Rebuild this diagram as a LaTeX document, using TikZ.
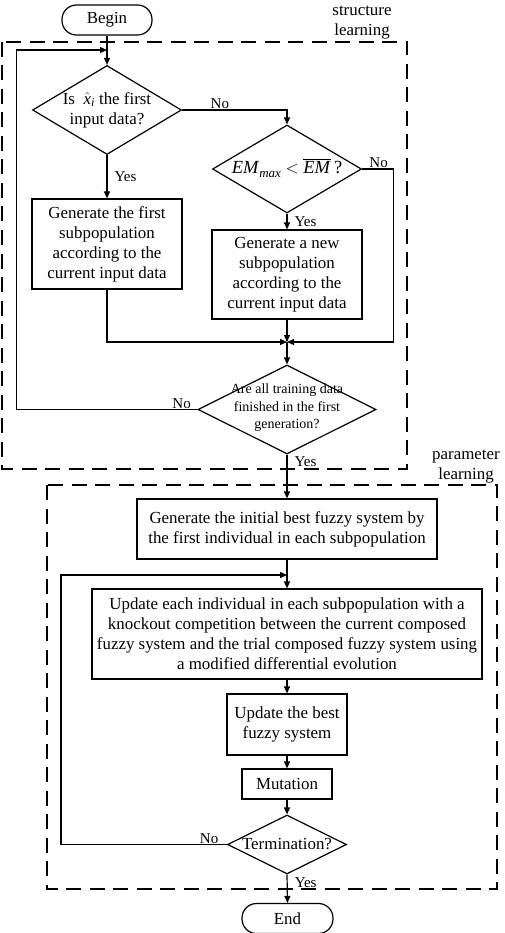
\documentclass[tikz,border=0pt]{standalone}
\usepackage{fontspec}
\setmainfont{Liberation Serif}
\usetikzlibrary{shapes.geometric,arrows.meta}
\newcommand{\myovl}[1]{\setbox0\hbox{#1}\rlap{\rule[\dimexpr\ht0+1.6pt\relax]{\wd0}{0.9pt}}\box0}
\begin{document}
\begin{tikzpicture}[x=1pt,y=-1pt,line width=1.2pt,
  arr/.style={-{Triangle[length=7pt,width=6pt]}},
  txt/.style={font=\fontsize{16.9}{20}\selectfont,align=center,inner sep=0pt},
  proc/.style={draw,rectangle,txt},
  term/.style={draw,rectangle,rounded corners=14.5pt,txt,minimum width=90pt,minimum height=30pt},
  dia/.style={draw,diamond,inner sep=0pt},
  lbl/.style={font=\fontsize{15}{17}\selectfont,inner sep=1pt},
  group/.style={line width=2.6pt,dash pattern=on 15pt off 8.5pt},
]
\fill[white] (0,0) rectangle (505,933);
\useasboundingbox (0,0) rectangle (505,933);

% group frames
\draw[group] (2,42) rectangle (407,469);
\draw[group] (47,485) rectangle (497,889);
\node[txt] (lblS) at (362,23) {structure\\learning};
\node[txt] (lblP) at (466,467) {parameter\\learning};

% nodes
\node[term] (begin) at (107,20) {Begin};
\coordinate (top1) at (107,50);
\node[dia,minimum width=149pt,minimum height=89pt] (d1) at (107,110) {};
\node[txt] (d1t) at (107,110) {Is \ $\hat{\mbox{\textit{x}}}_{\mbox{\fontsize{12}{13}\selectfont\textit{i}}}$ the first\\input data?};
\node[dia,minimum width=149pt,minimum height=88pt] (d2) at (287,169) {};
\node[txt,font=\fontsize{18.5}{22}\selectfont] (d2t) at (287,168) {\textit{EM}\raisebox{-4pt}{\fontsize{13}{14}\selectfont\textit{max}} $<$ \myovl{\textit{EM}}\,?};
\node[proc,minimum width=150pt,minimum height=90pt] (b1) at (107,244) {Generate the first\\subpopulation\\according to the\\current input data};
\node[proc,minimum width=150pt,minimum height=89pt] (b2) at (287,274.5) {Generate a new\\subpopulation\\according to the\\current input data};
\coordinate (m) at (287,342);
\node[dia,minimum width=178pt,minimum height=89pt] (d3) at (287,409.5) {};
\node[txt,font=\fontsize{14}{17.5}\selectfont] (d3t) at (287,408) {Are all training data\\finished in the first\\generation?};

\node[proc,minimum width=300pt,minimum height=60pt] (b3) at (287,529) {Generate the initial best fuzzy system by\\the first individual in each subpopulation};
\coordinate (top2) at (287,575);
\node[proc,minimum width=390pt,minimum height=90pt] (b4) at (287,634) {Update each individual in each subpopulation with a\\knockout competition between the current composed\\fuzzy system and the trial composed fuzzy system using\\a modified differential evolution};
\node[proc,minimum width=120pt,minimum height=61pt] (b5) at (287,724.5) {Update the best\\fuzzy system};
\node[proc,minimum width=90pt,minimum height=30pt] (b6) at (287,784) {Mutation};
\node[dia,minimum width=119pt,minimum height=59pt] (d4) at (287,844.5) {};
\node[txt] (d4t) at (287,844.5) {Termination?};
\node[term,minimum width=91pt] (end) at (287.5,918.5) {End};

% connectors
\draw[arr] (begin.south) -- (d1.north);
\draw[arr] (d1.east) -| (d2.north) node[lbl,pos=0.18,above] {No};
\draw[arr] (d1.south) -- (b1.north) node[lbl,midway,right,xshift=6pt] {Yes};
\draw[arr] (d2.south) -- (b2.north) node[lbl,midway,right,xshift=6pt] {Yes};
\draw[arr] (d2.east) -- ++(31,0) node[lbl,midway,above,xshift=1pt] {No} |- (m);
\draw[arr] (b1.south) |- (m);
\draw[arr] (b2.south) -- (m);
\draw[arr] (m) -- (d3.north);
\draw[arr] (d3.west) -- ++(-181,0) node[lbl,pos=0,anchor=south east,xshift=-5pt,yshift=-1pt] {No} |- (top1);
\draw[arr] (d3.south) -- (b3.north) node[lbl,pos=0.17,right,xshift=6pt] {Yes};
\draw[arr] (b3.south) -- (b4.north);
\draw[arr] (b4.south) -- (b5.north);
\draw[arr] (b5.south) -- (b6.north);
\draw[arr] (b6.south) -- (d4.north);
\draw[arr] (d4.west) -- ++(-166,0) node[lbl,pos=0,anchor=south east,xshift=-7pt,yshift=-1pt] {No} |- (top2);
\draw[arr] (d4.south) -- (end.north) node[lbl,pos=0.3,right,xshift=6pt] {Yes};
\end{tikzpicture}
\end{document}
